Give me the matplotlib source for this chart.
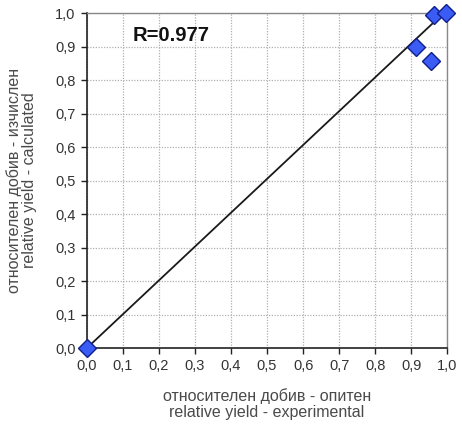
import matplotlib
matplotlib.use("Agg")
import matplotlib.pyplot as plt
from matplotlib.ticker import FuncFormatter, MultipleLocator

plt.rcParams['font.family'] = ['Liberation Sans', 'DejaVu Sans']

# experimental vs calculated relative yield
experimental = [0.0, 0.914, 0.955, 0.964, 0.997]
calculated = [0.0, 0.898, 0.857, 0.994, 1.0]

# regression line end points
fit_x = [0.0, 0.965]
fit_y = [0.0, 0.975]

r_value = 0.977

fig = plt.figure(figsize=(4.62, 4.25), dpi=100)
ax = fig.add_axes([0.188, 0.181, 0.78, 0.788])

ax.set_xlim(0, 1)
ax.set_ylim(0, 1)
ax.xaxis.set_major_locator(MultipleLocator(0.1))
ax.yaxis.set_major_locator(MultipleLocator(0.1))
fmt = FuncFormatter(lambda v, p: f"{v:.1f}".replace('.', ','))
ax.xaxis.set_major_formatter(fmt)
ax.yaxis.set_major_formatter(fmt)

ax.grid(True, color='#b0b0b0', linestyle=(0, (1, 1.2)), linewidth=0.9)
ax.set_axisbelow(True)

for s in ('top', 'right'):
    ax.spines[s].set_color('#888888')
    ax.spines[s].set_linewidth(1.0)
for s in ('left', 'bottom'):
    ax.spines[s].set_color('#222222')
    ax.spines[s].set_linewidth(1.2)

ax.tick_params(axis='both', direction='out', length=4, width=1, colors='#222222',
               labelsize=10.5, labelcolor='#333333', pad=4)

ax.plot(fit_x, fit_y, color='#1a1a1a', linewidth=1.3, zorder=3)
ax.plot(experimental, calculated, linestyle='none', marker='D', markersize=9.5,
        markerfacecolor='#3a5cf5', markeredgecolor='#10208a', markeredgewidth=1.0,
        clip_on=False, zorder=4)

ax.text(0.128, 0.933, f"R={r_value}", fontsize=14.5, fontweight='bold',
        color='#111111', va='center', ha='left', transform=ax.transData)

ax.set_xlabel("относителен добив - опитен\nrelative yield - experimental",
              fontsize=11.5, color='#4a4a4a', labelpad=11, linespacing=1.05)
ax.set_ylabel("относителен добив - изчислен\nrelative yield - calculated",
              fontsize=11.5, color='#4a4a4a', labelpad=13, linespacing=1.05)

fig.savefig("out.png", dpi=100)
